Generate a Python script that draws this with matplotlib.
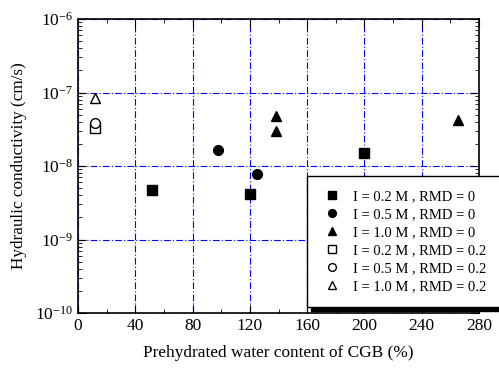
import matplotlib
matplotlib.use("Agg")
import matplotlib.pyplot as plt
from matplotlib.ticker import LogLocator, MultipleLocator, NullFormatter

plt.rcParams['font.family'] = ['Liberation Serif', 'DejaVu Serif']
plt.rcParams['mathtext.fontset'] = 'stix'

# data
sq_fill_x = [52, 120, 200]
sq_fill_y = [4.7e-9, 4.1e-9, 1.52e-8]
ci_fill_x = [98, 125]
ci_fill_y = [1.65e-8, 7.9e-9]
tr_fill_x = [138, 138, 265]
tr_fill_y = [4.8e-8, 3.0e-8, 4.2e-8]
sq_open_x = [12]
sq_open_y = [3.3e-8]
ci_open_x = [12]
ci_open_y = [3.8e-8]
tr_open_x = [12]
tr_open_y = [8.3e-8]
labels = ["I = 0.2 M , RMD = 0", "I = 0.5 M , RMD = 0", "I = 1.0 M , RMD = 0",
          "I = 0.2 M , RMD = 0.2", "I = 0.5 M , RMD = 0.2", "I = 1.0 M , RMD = 0.2"]

fig = plt.figure(figsize=(4.99, 3.68), dpi=100)
ax = fig.add_axes([78/499, 1-313/368, (479-78)/499, (313-19)/368])

ms = 7
ax.plot(sq_fill_x, sq_fill_y, 's', color='black', ms=6.5, label=labels[0])
ax.plot(ci_fill_x, ci_fill_y, 'o', color='black', ms=ms, label=labels[1])
ax.plot(tr_fill_x, tr_fill_y, '^', color='black', ms=ms, label=labels[2])
ax.plot(sq_open_x, sq_open_y, 's', mfc='white', mec='black', ms=6.5, label=labels[3])
ax.plot(ci_open_x, ci_open_y, 'o', mfc='white', mec='black', ms=ms, label=labels[4])
ax.plot(tr_open_x, tr_open_y, '^', mfc='white', mec='black', ms=ms, label=labels[5])

ax.set_yscale('log')
ax.set_xlim(0, 280)
ax.set_ylim(1e-10, 1e-6)
ax.xaxis.set_major_locator(MultipleLocator(40))
ax.xaxis.set_minor_locator(MultipleLocator(20))
ax.yaxis.set_major_locator(LogLocator(base=10, numticks=10))
ax.yaxis.set_minor_locator(LogLocator(base=10, subs=range(2, 10), numticks=100))
ax.yaxis.set_minor_formatter(NullFormatter())
ax.grid(True, which='major', color='blue', linestyle=(0, (6, 2, 1, 2)), linewidth=0.8)
ax.tick_params(axis='both', which='both', top=True, right=True, direction='in', labelsize=12.5)
ax.tick_params(axis='x', which='both', bottom=True, top=True)
ax.tick_params(axis='both', which='major', length=6)
ax.tick_params(axis='both', which='minor', length=3)
for sp in ax.spines.values():
    sp.set_linewidth(1.2)

ax.set_xlabel('Prehydrated water content of CGB (%)', fontsize=12.4, labelpad=8)
ax.set_ylabel('Hydraulic conductivity (cm/s)', fontsize=12.3, labelpad=6)

leg = ax.legend(loc='upper left', bbox_to_anchor=(0.571, 0.031, 0.6, 0.435), mode='expand',
                fontsize=10.5, frameon=True, fancybox=False, edgecolor='black',
                shadow={'color': 'black', 'alpha': 1, 'ox': 3, 'oy': -3},
                handletextpad=0.6, labelspacing=0.33, borderpad=0.95, borderaxespad=0,
                markerscale=0.8, handlelength=1.6)
leg.get_frame().set_linewidth(1.0)
leg.set_clip_on(False)

fig.savefig('out.png', dpi=100)
